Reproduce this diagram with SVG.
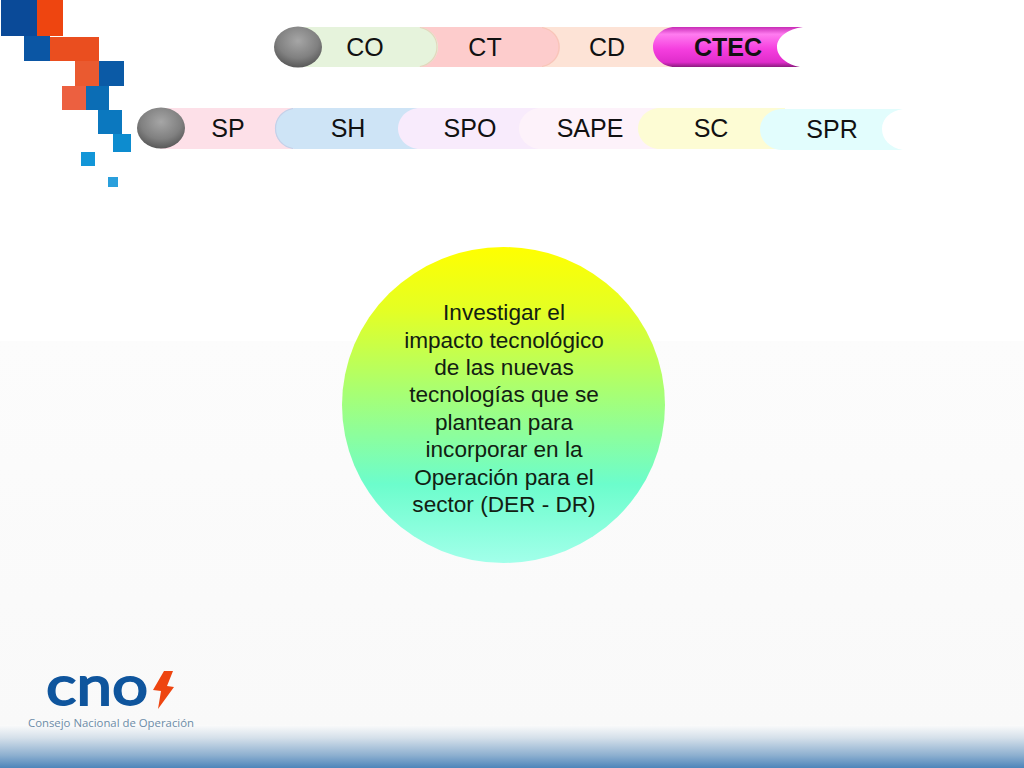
<svg xmlns="http://www.w3.org/2000/svg" width="1024" height="768" viewBox="0 0 1024 768">
<style>
.l{font-family:"Liberation Sans",Arial,sans-serif;font-size:25px;fill:#111;text-anchor:middle}
.b{font-family:"Liberation Sans",Arial,sans-serif;font-size:22.6px;fill:#122012;text-anchor:middle}
.edge{fill:none;stroke-width:1.2}
</style>
<defs>
<linearGradient id="bg" x1="0" y1="0" x2="0" y2="1"><stop offset="0" stop-color="#fcfcfc"/><stop offset="1" stop-color="#f9f9f9"/></linearGradient>
<linearGradient id="band" x1="0" y1="0" x2="0" y2="1"><stop offset="0" stop-color="#fbfbfb"/><stop offset="0.3" stop-color="#d5e0ea"/><stop offset="0.7" stop-color="#8eb0d0"/><stop offset="1" stop-color="#4d85ba"/></linearGradient>
<linearGradient id="circ" x1="0" y1="0" x2="0" y2="1"><stop offset="0" stop-color="#ffff00"/><stop offset="0.2" stop-color="#e4ff24"/><stop offset="0.45" stop-color="#aaff70"/><stop offset="0.75" stop-color="#6cfdcc"/><stop offset="1" stop-color="#a2ffea"/></linearGradient>
<linearGradient id="mag" x1="0" y1="0" x2="0" y2="1"><stop offset="0" stop-color="#c82cb6"/><stop offset="0.18" stop-color="#ff7cf0"/><stop offset="0.55" stop-color="#f53fdf"/><stop offset="0.88" stop-color="#e02ccb"/><stop offset="1" stop-color="#8c1c7e"/></linearGradient>
<radialGradient id="ball" cx="0.5" cy="0.35" r="0.7"><stop offset="0" stop-color="#a6a6a6"/><stop offset="0.6" stop-color="#808080"/><stop offset="0.9" stop-color="#5c5c5c"/><stop offset="1" stop-color="#474747"/></radialGradient>
<ellipse id="sphere" rx="24" ry="20.5" fill="url(#ball)"/>
</defs>
<rect width="1024" height="768" fill="#fff"/>
<rect y="341" width="1024" height="385" fill="url(#bg)"/>
<rect y="725" width="1024" height="43" fill="url(#band)"/>
<g id="deco">
<rect x="1" y="0" width="36" height="36" fill="#0a4a98"/>
<rect x="37" y="0" width="26" height="36" fill="#ee4510"/>
<rect x="24" y="36" width="26" height="25" fill="#0b56a4"/>
<rect x="50" y="37" width="49" height="24" fill="#ea4e1f"/>
<rect x="75" y="61" width="24" height="25" fill="#ea5a30"/>
<rect x="99" y="61" width="25" height="25" fill="#0b5aa6"/>
<rect x="62" y="86" width="24" height="24" fill="#ec6040"/>
<rect x="86" y="86" width="23" height="24" fill="#0b6db5"/>
<rect x="98" y="110" width="24" height="24" fill="#0b78bf"/>
<rect x="113" y="134" width="18" height="18" fill="#0d8ccf"/>
<rect x="81" y="152" width="14" height="14" fill="#1296d8"/>
<rect x="108" y="177" width="10" height="10" fill="#2a9fdc"/>
</g>
<g id="row1">
<g id="n-cd"><path d="M530 27H680V67H530Z" fill="#fde3d6"/><text class="l" x="607" y="56">CD</text></g>
<g id="n-ct"><path d="M400 27H538C552 27 560 37 560 47C560 57 552 67 538 67H400Z" fill="#fdcccc"/><path class="edge" d="M542 27.500C553 29.500 559 38 559 47C559 56 553 64.500 542 66.500" stroke="#f8c6b8"/><text class="l" x="485" y="56">CT</text></g>
<g id="n-co"><path d="M298 27H416C430 27 438 37 438 47C438 57 430 67 416 67H298Z" fill="#e6f3dc"/><path class="edge" d="M420 27.500C431 29.500 437 38 437 47C437 56 431 64.500 420 66.500" stroke="#e4d6bd"/><text class="l" x="365" y="56">CO</text></g>
<g id="n-ctec"><path d="M675 27H803C788 29 777 37 777 47C777 57 788 65 800 67H675C662 67 653 57 653 47C653 37 662 27 675 27Z" fill="url(#mag)"/><text class="l" x="728" y="56" style="font-weight:700">CTEC</text></g>
<use id="ball1" href="#sphere" x="298" y="47"/>
</g>
<g id="row2">
<g id="n-sp"><path d="M160 108H300V149H160Z" fill="#fde0e8"/><text class="l" x="228" y="137">SP</text></g>
<g id="n-sh"><path d="M297 108H425V149H297C284 149 275 139 275 128.500C275 118 284 108 297 108Z" fill="#cee4f6"/><path class="edge" d="M293 108.500C282 110.500 275.500 119 275.500 128.500C275.500 138 282 146.500 293 148.500" stroke="#c5d0e8"/><text class="l" x="348" y="137">SH</text></g>
<g id="n-spo"><path d="M420 108H545V149H420C407 149 398 139 398 128.500C398 118 407 108 420 108Z" fill="#f8ebfc"/><text class="l" x="470" y="137">SPO</text></g>
<g id="n-sape"><path d="M541 108H660V149H541C528 149 519 139 519 128.500C519 118 528 108 541 108Z" fill="#fdf2fa"/><text class="l" x="590" y="137">SAPE</text></g>
<g id="n-sc"><path d="M660 108H785V149H660C647 149 638 139 638 128.500C638 118 647 108 660 108Z" fill="#fdfcd4"/><text class="l" x="711" y="137">SC</text></g>
<g id="n-spr"><path d="M782 109H903C890 111 882 119 882 129C882 139 890 148 903 150H782C769 150 760 140 760 129.500C760 119 769 109 782 109Z" fill="#e2fdfd"/><text class="l" x="832" y="138">SPR</text></g>
<use id="ball2" href="#sphere" x="161" y="128"/>
</g>
<g id="center">
<ellipse cx="503.500" cy="405" rx="161.500" ry="158" fill="url(#circ)"/>
<text class="b" x="504" y="320">Investigar el</text>
<text class="b" x="504" y="348">impacto tecnológico</text>
<text class="b" x="504" y="375">de las nuevas</text>
<text class="b" x="504" y="402">tecnologías que se</text>
<text class="b" x="504" y="430">plantean para</text>
<text class="b" x="504" y="457">incorporar en la</text>
<text class="b" x="504" y="485">Operación para el</text>
<text class="b" x="504" y="512">sector (DER - DR)</text>
</g>
<g id="logo">
<text x="46" y="705" font-family="Lato,'Open Sans',sans-serif" font-size="54" fill="#0f559d" stroke="#0f559d" stroke-width="1.8" textLength="102" lengthAdjust="spacingAndGlyphs">cno</text>
<path d="M164 671H173L167 686L174 687L158 709L161 691L153 690Z" fill="#ee4510"/>
<text x="28" y="727" font-family="'Open Sans','Liberation Sans',sans-serif" font-size="11.500" fill="#6c8ca8" textLength="166" lengthAdjust="spacingAndGlyphs">Consejo Nacional de Operación</text>
</g>
</svg>
